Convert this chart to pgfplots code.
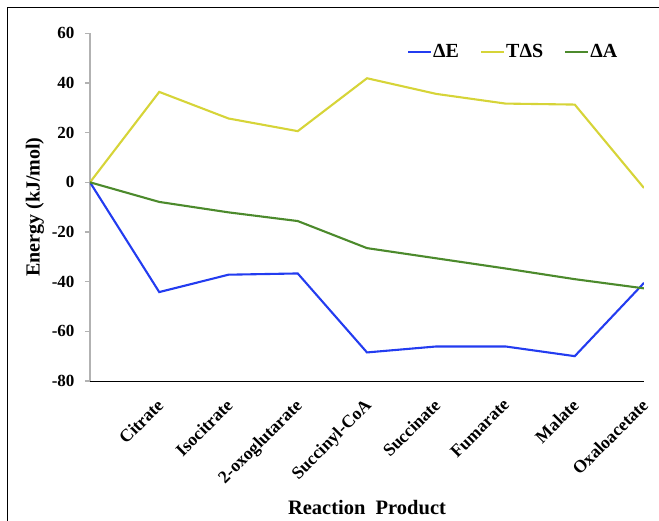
\documentclass[border=0pt]{standalone}
\usepackage{fontspec}
\setmainfont{Liberation Serif}
\usepackage{pgfplots}
\pgfplotsset{compat=1.18}

\definecolor{eblue}{RGB}{35,60,240}
\definecolor{syellow}{RGB}{214,212,56}
\definecolor{agreen}{RGB}{76,138,44}

\begin{document}
\begin{tikzpicture}[x=1pt,y=1pt]
\useasboundingbox (0,0) rectangle (659,521);
% outer frame (left and top edges)
\draw[black, line width=1.1pt] (7.5,0) -- (7.5,513.5) -- (659,513.5);
\begin{axis}[
  at={(90pt,140pt)}, anchor=south west,
  scale only axis, width=554pt, height=347.7pt,
  xmin=0, xmax=8, ymin=-80, ymax=60,
  axis x line*=bottom, axis y line*=left,
  x axis line style={-, black, line width=0.9pt},
  y axis line style={-, black!30, line width=1.2pt},
  xtick={1,2,3,4,5,6,7,8},
  xticklabels={Citrate,Isocitrate,2-oxoglutarate,Succinyl-CoA,Succinate,Fumarate,Malate,Oxaloacetate},
  xtick style={draw=none},
  xticklabel style={rotate=45, anchor=north east, inner sep=0pt, xshift=-10.6pt, yshift=-5.7pt,
    font=\bfseries\fontsize{17.7}{20}\selectfont},
  ytick={-80,-60,-40,-20,0,20,40,60},
  ytick style={black!30, line width=1.2pt},
  tick align=outside, major tick length=5pt,
  yticklabel style={font=\bfseries\fontsize{17}{19}\selectfont, xshift=-7pt},
  /pgf/number format/assume math mode=true,
  xlabel={Reaction\ \ Product},
  xlabel style={at={(axis description cs:0.5,0)}, anchor=base, yshift=-134pt,
    font=\bfseries\fontsize{20.5}{22}\selectfont},
  ylabel={Energy (kJ/mol)},
  ylabel style={at={(axis description cs:0,0.5)}, anchor=center, xshift=0pt, yshift=55pt,
    font=\bfseries\fontsize{20}{22}\selectfont},
  legend columns=3,
  legend style={draw=none, fill=none, at={(axis description cs:0.572,0.946)}, anchor=west,
    font=\bfseries\fontsize{20}{22}\selectfont, inner sep=0pt,
    nodes={inner sep=1pt},
    /tikz/every even column/.append style={column sep=20pt}},
  legend image code/.code={\draw[#1] (0pt,0pt) -- (23pt,0pt);},
  every axis plot/.append style={line width=2.1pt, mark=none},
]
\addplot[eblue] coordinates {(0,0) (1,-44.2) (2,-37.2) (3,-36.7) (4,-68.5) (5,-66.1) (6,-66.1) (7,-70.0) (8,-40.5)};
\addlegendentry{ΔE}
\addplot[syellow] coordinates {(0,0) (1,36.4) (2,25.7) (3,20.6) (4,41.9) (5,35.6) (6,31.7) (7,31.3) (8,-2.3)};
\addlegendentry{TΔS}
\addplot[agreen] coordinates {(0,0) (1,-7.9) (2,-12.1) (3,-15.6) (4,-26.5) (5,-30.6) (6,-34.7) (7,-39.0) (8,-42.7)};
\addlegendentry{ΔA}
\end{axis}
\end{tikzpicture}
\end{document}
